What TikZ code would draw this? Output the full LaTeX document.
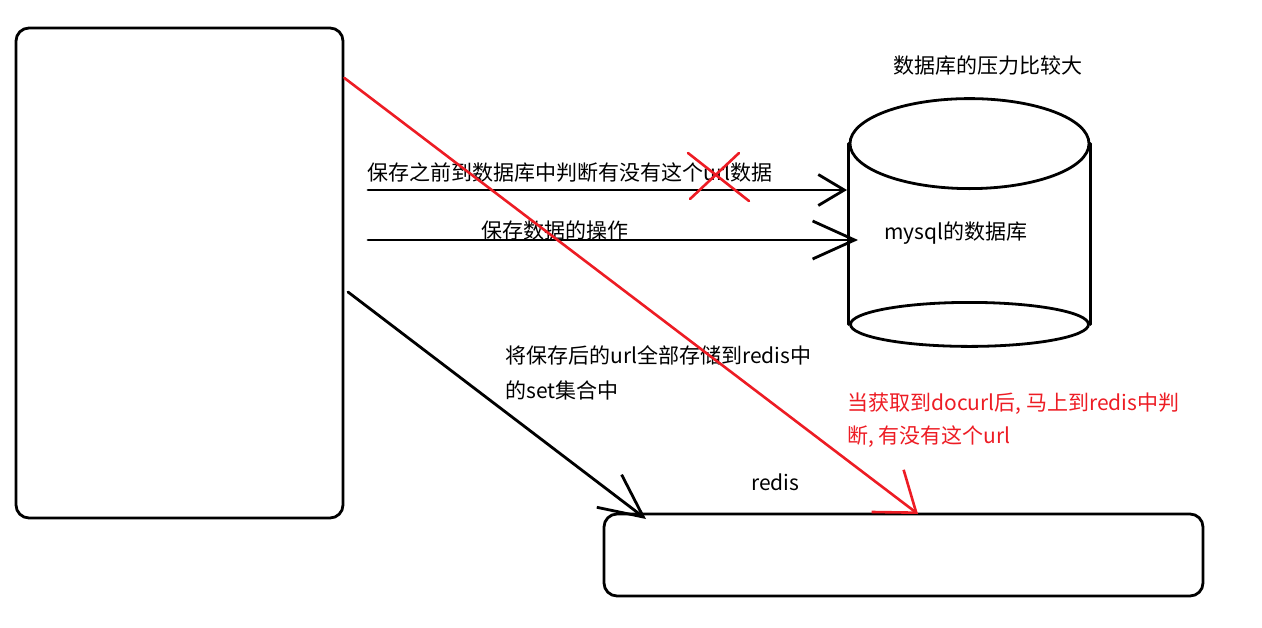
\documentclass[tikz,border=0pt]{standalone}
\usepackage{fontspec}
\setmainfont{Noto Sans CJK SC}
\usetikzlibrary{arrows.meta,positioning}
\definecolor{paintred}{RGB}{237,28,36}

\begin{document}
\begin{tikzpicture}[%
    x=1pt, y=-1pt, line width=2.8pt, line cap=round,
    box/.style={draw, rounded corners=13pt, inner sep=0pt},
    lbl/.style={anchor=west, inner sep=0pt, align=left,
      font=\fontsize{21}{35}\selectfont},
    hand/.style 2 args={-{Straight Barb[length=#1pt,width=#2pt]}}]
    \useasboundingbox (0,0) rectangle (1262,627);
    \node [box, minimum width=327pt, minimum height=490pt] (client) at (179.5,273) {};
    \node [box, minimum width=599pt, minimum height=82pt] (redisbox) at (903.5,555) {};
    \node [minimum width=239pt, minimum height=178pt, inner sep=0pt] (db) at (969.5,234) {};
    \draw (db.north) ellipse [x radius=119.5, y radius=45];
    \draw (db.north west) -- (db.south west);
    \draw (db.north east) -- (db.south east);
    \draw (db.south) ellipse [x radius=119, y radius=22];
    \node [lbl] (dbtitle) at (892,66) {数据库的压力比较大};
    \node [lbl] (dbname) at (883,233) {mysql的数据库};
    \node [lbl] (redisname) at (750,482) {redis};
    \coordinate (q1) at (368,190);
    \coordinate (q1end) at (847,190);
    \coordinate (q2) at (368,240);
    \coordinate (q2end) at (858,240);
    \coordinate (s) at (348,292);
    \coordinate (send) at (646,519);
    \coordinate (r) at (client.east |- 0,78);
    \coordinate (rend) at (918,514);
    \draw [hand={26}{31}] (q1) -- (q1end);
    \node [lbl] (checktxt) at (366,173) {保存之前到数据库中判断有没有这个url数据};
    \draw [hand={42}{38}] (q2) -- (q2end);
    \node [lbl] (savetxt) at (480,231) {保存数据的操作};
    \draw [hand={43}{41}] (s) -- (send);
    \node [lbl] (settxt) at (504,372.5) {将保存后的url全部存储到redis中\\的set集合中};
    \draw [paintred, line width=2.6pt, hand={36}{53}] (r) -- (rend);
    \node [lbl, text=paintred, font=\fontsize{21}{33}\selectfont] (redtxt) at (846,420.5)
      {当获取到docurl后, 马上到redis中判\\断, 有没有这个url};
    \draw [paintred, line width=2.6pt] (688,153) -- (749,201) (690,199) -- (739,153);
\end{tikzpicture}
\end{document}
